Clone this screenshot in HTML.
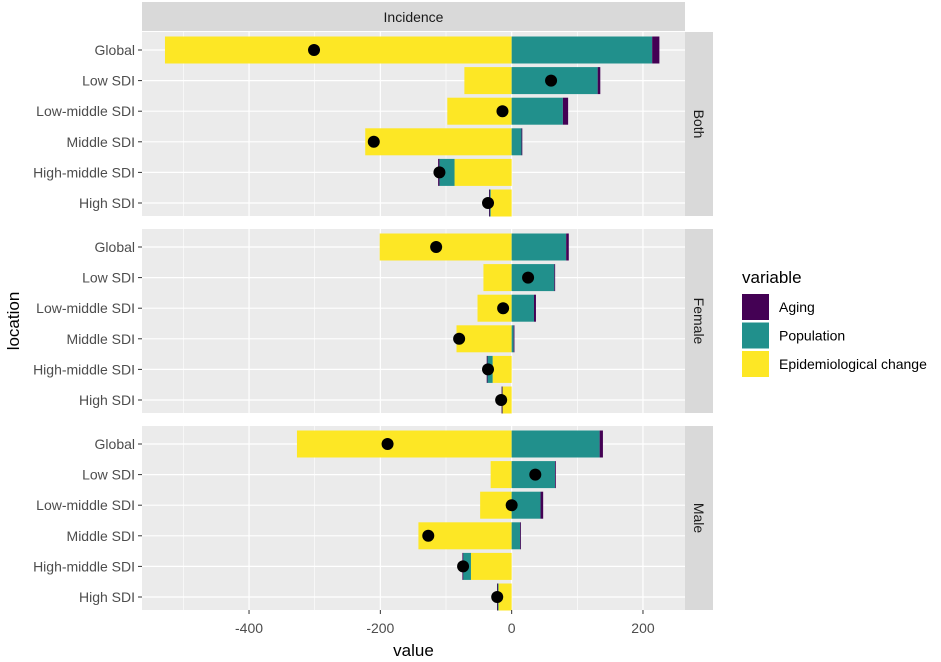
<!DOCTYPE html>
<html><head><meta charset="utf-8"><style>
body{margin:0;background:#fff;}
svg{display:block;font-family:"Liberation Sans",Arial,sans-serif;}
</style></head><body>
<svg id="chart" width="941" height="662" viewBox="0 0 941 662"></svg>
<script>
const categories = ["Global","Low SDI","Low-middle SDI","Middle SDI","High-middle SDI","High SDI"];
const panels = ["Both","Female","Male"];
const epiValues = [
  [-528,-72,-98,-223,-87,-32],
  [-201,-43,-52,-84,-29,-14],
  [-327,-32,-48,-142,-62,-20]];
const popValues = [
  [214,131,78,15,-23,-2],
  [83,65,34,3,-8,-1],
  [134,66,44,13,-12,-2]];
const agingValues = [
  [11,4,8,1,-2,-0.5],
  [4,1,3,0.5,-1,-0.3],
  [5,1,4,1,-1,-0.3]];
const totalValues = [
  [-301,60,-14,-210,-110,-36],
  [-115,25,-13,-80,-36,-16],
  [-189,36,0,-127,-74,-22]];
const majorTicks = [-400,-200,0,200];
const minorTicks = [-500,-300,-100,100];
const legendLabels = ["Aging","Population","Epidemiological change"];
const colors = {aging:"#440154",pop:"#21908C",epi:"#FDE725"};

const NS="http://www.w3.org/2000/svg";
const svg=document.getElementById('chart');
function mk(tag,attrs,parent,text){const e=document.createElementNS(NS,tag);for(const k in attrs)e.setAttribute(k,attrs[k]);if(text!==undefined)e.textContent=text;(parent||svg).appendChild(e);return e;}

const PL=142,PR=685,XMIN=-563,XMAX=264;
function xs(v){return PL+(v-XMIN)/(XMAX-XMIN)*(PR-PL);}
const panelTops=[32,229,426],PH=184;
const STEP=30.6;
function ys(p,i){return panelTops[p]+18+STEP*i;}
const bw=27;

let g=mk('g',{});


mk('rect',{x:PL,y:2,width:PR-PL,height:29,fill:'#d9d9d9'},g);
mk('text',{x:(PL+PR)/2,y:22,'text-anchor':'middle','font-size':14,fill:'#1a1a1a'},g,'Incidence');

panels.forEach((pn,p)=>{
  const top=panelTops[p];
  const pg=mk('g',{});
  
  
  mk('rect',{x:PL,y:top,width:PR-PL,height:PH,fill:'#ebebeb'},pg);
  minorTicks.forEach(t=>mk('line',{x1:xs(t),x2:xs(t),y1:top,y2:top+PH,stroke:'#fff','stroke-width':0.6},pg));
  majorTicks.forEach(t=>mk('line',{x1:xs(t),x2:xs(t),y1:top,y2:top+PH,stroke:'#fff','stroke-width':1.2},pg));
  categories.forEach((c,i)=>{mk('line',{x1:PL,x2:PR,y1:ys(p,i),y2:ys(p,i),stroke:'#fff','stroke-width':1.2},pg);});
  categories.forEach((c,i)=>{
    const y=ys(p,i);
    let pos=0,neg=0;
    [['epi',epiValues[p][i]],['pop',popValues[p][i]],['aging',agingValues[p][i]]].forEach(([k,v])=>{
      let a,b;
      if(v>=0){a=pos;b=pos+v;pos=b;}else{a=neg;b=neg+v;neg=b;}
      const x1=xs(Math.min(a,b)),x2=xs(Math.max(a,b));
      const r=mk('rect',{x:x1,y:y-bw/2,width:Math.max(x2-x1,0.8),height:bw,fill:colors[k]},pg);
      
      
    });
  });
  categories.forEach((c,i)=>{
    const d=mk('circle',{cx:xs(totalValues[p][i]),cy:ys(p,i),r:6,fill:'#000'},pg);
    
    
  });
  categories.forEach((c,i)=>{
    mk('line',{x1:PL-4,x2:PL,y1:ys(p,i),y2:ys(p,i),stroke:'#333','stroke-width':1},pg);
    const t=mk('text',{x:PL-7,y:ys(p,i)+5,'text-anchor':'end','font-size':14,fill:'#4d4d4d'},pg,c);
    
    
  });
  const sg=mk('g',{},pg);
  
  
  mk('rect',{x:PR,y:top,width:28,height:PH,fill:'#d9d9d9'},sg);
  mk('text',{x:0,y:0,'font-size':14,fill:'#1a1a1a','text-anchor':'middle',transform:`translate(${PR+9},${top+PH/2}) rotate(90)`},sg,pn);
});

const xg=mk('g',{});


majorTicks.forEach(t=>{
  mk('line',{x1:xs(t),x2:xs(t),y1:610,y2:614,stroke:'#333'},xg);
  mk('text',{x:xs(t),y:633,'text-anchor':'middle','font-size':14,fill:'#4d4d4d'},xg,String(t));
});
let xt=mk('text',{x:(PL+PR)/2,y:656,'text-anchor':'middle','font-size':17,fill:'#000'},null,'value');


let yt=mk('text',{x:0,y:0,'text-anchor':'middle','font-size':17,fill:'#000',transform:'translate(19,321) rotate(-90)'},null,'location');



const lg=mk('g',{});


mk('text',{x:742,y:283,'font-size':17,fill:'#000'},lg,'variable');
const lcols=[colors.aging,colors.pop,colors.epi];
legendLabels.forEach((l,i)=>{
  const e=mk('g',{},lg);
  
  
  const y=294+i*28.5;
  mk('rect',{x:742,y:y,width:27,height:26,fill:lcols[i]},e);
  mk('text',{x:779,y:y+18,'font-size':14,fill:'#000'},e,l);
});
</script>
</body></html>
